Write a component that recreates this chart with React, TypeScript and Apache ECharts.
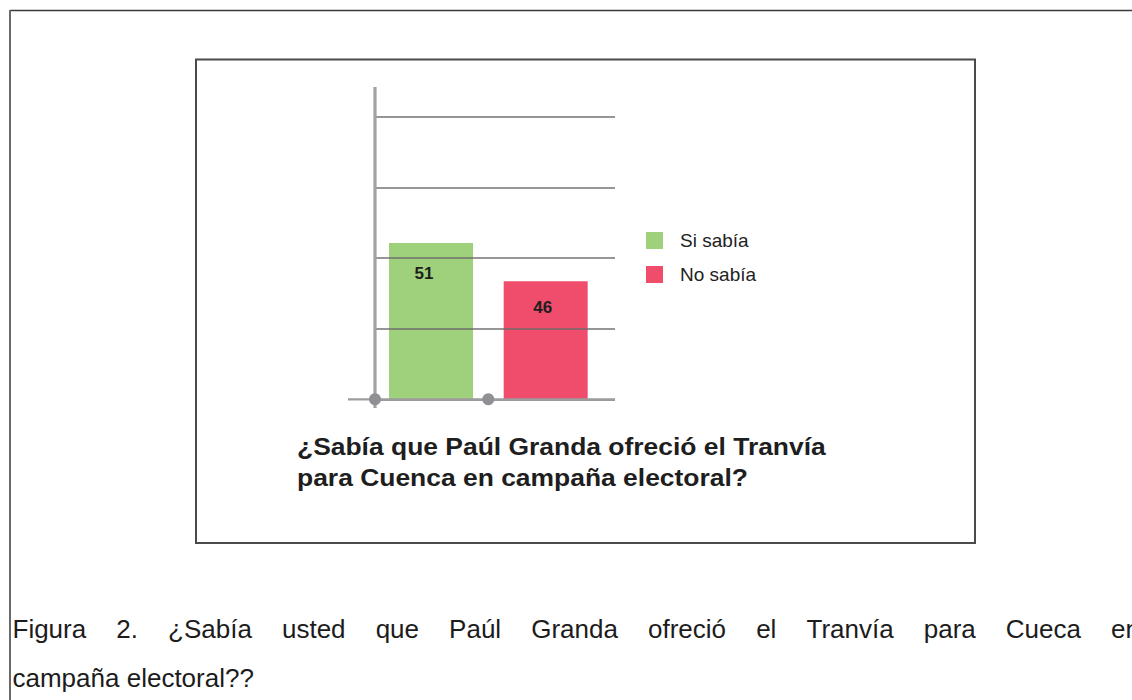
import React, { useEffect, useRef } from "react";
import * as echarts from "echarts";

// ---- data ----
const categories = ["¿Sabía que Paúl Granda ofreció el Tranvía para Cuenca en campaña electoral?"];
const seriesNames = ["Si sabía", "No sabía"];
const siSabia = [51];
const noSabia = [46];
const gridSteps = [0, 4]; // decorative gridline axis range (4 bands)
const titleLines = ["¿Sabía que Paúl Granda ofreció el Tranvía", "para Cuenca en campaña electoral?"];
const captionLine1 = ["Figura", "2.", "¿Sabía", "usted", "que", "Paúl", "Granda", "ofreció", "el", "Tranvía", "para", "Cueca", "en"];
const captionLine2 = "campaña electoral??";

const FONT = '"Liberation Sans", Arial, Helvetica, sans-serif';

export default function App() {
  const ref = useRef<HTMLDivElement>(null);

  useEffect(() => {
    if (!ref.current) return;
    const chart = echarts.init(ref.current, null, { renderer: "svg" });

    // justified caption layout
    const canvas = document.createElement("canvas");
    const ctx = canvas.getContext("2d")!;
    ctx.font = '26px "Liberation Sans"';
    const widths = captionLine1.map((w) => ctx.measureText(w).width);
    const total = widths.reduce((a, b) => a + b, 0);
    const lineLeft = 12.5;
    const lineRight = 1140;
    const gap = (lineRight - lineLeft - total) / (captionLine1.length - 1);
    let cx = lineLeft;
    const captionWords = captionLine1.map((w, i) => {
      const el = {
        type: "text",
        x: cx,
        y: 628.5,
        style: {
          text: w,
          fontSize: 26,
          fontFamily: FONT,
          fill: "#1c1c1c",
          textAlign: "left",
          textVerticalAlign: "middle",
          align: "left",
          verticalAlign: "middle",
        },
      };
      cx += widths[i] + gap;
      return el;
    });

    const gray = "#9d9d9d";

    const option: any = {
      animation: false,
      backgroundColor: "#ffffff",
      legend: {
        data: seriesNames,
        orient: "vertical",
        left: 641,
        top: 226,
        itemWidth: 17,
        itemHeight: 17,
        itemGap: 15,
        icon: "rect",
        textStyle: {
          fontSize: 19,
          fontFamily: FONT,
          color: "#222",
          padding: [0, 0, 0, 12],
          lineHeight: 18,
        },
      },
      grid: [
        { left: 375, top: 116.7, width: 240, height: 282.6 },
        { left: 375, top: 116.7, width: 226.7, height: 282.6 },
      ],
      xAxis: [
        { type: "value", gridIndex: 0, show: false, min: 0, max: 1 },
        { type: "category", gridIndex: 1, data: categories, show: false },
      ],
      yAxis: [
        {
          type: "value",
          gridIndex: 0,
          min: gridSteps[0],
          max: gridSteps[1],
          interval: 1,
          z: 5,
          axisLine: { show: false },
          axisTick: { show: false },
          axisLabel: { show: false },
          splitLine: { show: true, lineStyle: { color: "rgba(105,105,105,0.7)", width: 2.2 } },
        },
        {
          type: "value",
          gridIndex: 1,
          min: 30.6,
          max: 67.5,
          show: false,
          splitLine: { show: false },
        },
      ],
      series: [
        {
          name: seriesNames[0],
          type: "bar",
          xAxisIndex: 1,
          yAxisIndex: 1,
          data: siSabia,
          barWidth: 84,
          barGap: "36.5%",
          itemStyle: { color: "#9fd07b" },
          label: {
            show: true,
            position: "insideTop",
            distance: 22,
            offset: [-7, 0],
            fontSize: 17,
            fontWeight: "bold",
            fontFamily: FONT,
            color: "#1e1e1e",
          },
        },
        {
          name: seriesNames[1],
          type: "bar",
          xAxisIndex: 1,
          yAxisIndex: 1,
          data: noSabia,
          barWidth: 84,
          barGap: "36.5%",
          itemStyle: { color: "#ef4d6b" },
          label: {
            show: true,
            position: "insideTop",
            distance: 18,
            offset: [-3, 0],
            fontSize: 17,
            fontWeight: "bold",
            fontFamily: FONT,
            color: "#1e1e1e",
          },
        },
      ],
      graphic: [
        // outer page frame
        { type: "line", shape: { x1: 10, y1: 10.5, x2: 1132, y2: 10.5 }, style: { stroke: "#3a3a3a", lineWidth: 1.5 } },
        { type: "line", shape: { x1: 10, y1: 10, x2: 10, y2: 700 }, style: { stroke: "#6a6a6a", lineWidth: 2 } },
        // inner figure box
        { type: "rect", shape: { x: 196, y: 59.5, width: 779, height: 483.5 }, style: { fill: "none", stroke: "#4a4a4a", lineWidth: 2 } },
        // axis decorations
        { type: "line", z: 10, shape: { x1: 348, y1: 399.3, x2: 615, y2: 399.3 }, style: { stroke: gray, lineWidth: 2.2 } },
        { type: "line", z: 10, shape: { x1: 375, y1: 87, x2: 375, y2: 408 }, style: { stroke: "#a2a2a2", lineWidth: 3.2 } },
        { type: "circle", z: 11, shape: { cx: 375, cy: 399.3, r: 6 }, style: { fill: "#8f8f94" } },
        { type: "circle", z: 11, shape: { cx: 488.3, cy: 399.3, r: 6 }, style: { fill: "#8f8f94" } },
        // chart title
        ...titleLines.map((t, i) => ({
          type: "text",
          x: 297,
          y: 447 + i * 31,
          scaleX: 1.15,
          style: {
            text: t,
            fontSize: 23,
            fontWeight: "bold",
            fontFamily: FONT,
            fill: "#1e1e1e",
            textAlign: "left",
            textVerticalAlign: "middle",
            align: "left",
            verticalAlign: "middle",
          },
        })),
        // caption
        ...captionWords,
        {
          type: "text",
          x: lineLeft,
          y: 678,
          style: {
            text: captionLine2,
            fontSize: 26,
            fontFamily: FONT,
            fill: "#1c1c1c",
            textAlign: "left",
            textVerticalAlign: "middle",
            align: "left",
            verticalAlign: "middle",
          },
        },
      ],
    };

    chart.setOption(option);
    return () => chart.dispose();
  }, []);

  return (
    <div
      ref={ref}
      style={{ position: "absolute", left: 0, top: 0, width: 1132, height: 700, background: "#fff" }}
    />
  );
}
